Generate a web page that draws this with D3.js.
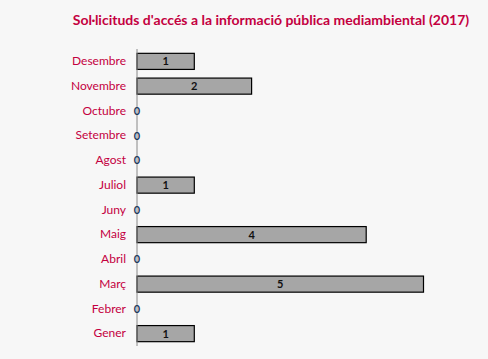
<!DOCTYPE html>
<html>
<head>
<meta charset="utf-8">
<script src="https://cdn.jsdelivr.net/npm/d3@7"></script>
<style>
  body { margin: 0; background: #f7f7f7; }
  svg { display: block; font-family: Lato, "Open Sans", sans-serif; }
</style>
</head>
<body>
<div id="chart"></div>
<script>
// months, top to bottom as drawn
var months = ["Desembre", "Novembre", "Octubre", "Setembre", "Agost", "Juliol",
  "Juny", "Maig", "Abril", "Març", "Febrer", "Gener"];
var requests = [1, 2, 0, 0, 0, 1, 0, 4, 0, 5, 0, 1];

var width = 488,
    height = 359,
    margin = {top: 49, right: 8, bottom: 13, left: 137};

var rows = months.map(function(m, i) {
    return {month: m, value: requests[i]};
});

var svg = d3.select("#chart").append("svg")
    .attr("width", width)
    .attr("height", height);

svg.append("rect")
    .attr("width", width)
    .attr("height", height)
    .attr("fill", "#f7f7f7");

//Title
svg.append("text")
    .attr("x", 271)
    .attr("y", 25)
    .attr("text-anchor", "middle")
    .attr("font-size", "14px")
    .attr("font-weight", "bold")
    .attr("fill", "#c4003f")
    .text("Sol·licituds d'accés a la informació pública mediambiental (2017)");

var x = d3.scaleLinear()
    .domain([0, 1])
    .range([margin.left, margin.left + 57.3]);

var y = d3.scaleBand()
    .domain(months)
    .range([margin.top, height - margin.bottom])
    .paddingInner(0.35)
    .paddingOuter(0.175);

//Bars
svg.selectAll("rect.bar")
    .data(rows.filter(function(d) { return d.value > 0; }))
    .enter()
    .append("rect")
    .attr("class", "bar")
    .attr("x", x(0))
    .attr("y", function(d) { return y(d.month); })
    .attr("width", function(d) { return x(d.value) - x(0); })
    .attr("height", y.bandwidth())
    .attr("fill", "#a6a6a6")
    .attr("stroke", "#000")
    .attr("stroke-width", 1.2);

//Axis line
svg.append("line")
    .attr("x1", x(0))
    .attr("x2", x(0))
    .attr("y1", margin.top)
    .attr("y2", height - margin.bottom)
    .attr("stroke", "#888")
    .attr("stroke-width", 1);

//Category labels
var yAxis = svg.append("g")
    .attr("transform", "translate(" + (x(0) - 11) + ",0)")
    .call(d3.axisLeft(y).tickSize(0).tickPadding(0));
yAxis.select(".domain").remove();
yAxis.selectAll("text")
    .attr("font-family", "Lato, 'Open Sans', sans-serif")
    .attr("font-size", "12px")
    .attr("fill", "#c4003f");

//Value labels
svg.selectAll("text.val")
    .data(rows)
    .enter()
    .append("text")
    .attr("class", "val")
    .attr("x", function(d) { return (x(0) + x(d.value)) / 2; })
    .attr("y", function(d) { return y(d.month) + y.bandwidth() / 2; })
    .attr("dy", "0.36em")
    .attr("text-anchor", "middle")
    .attr("font-size", "11px")
    .attr("font-weight", "bold")
    .attr("fill", function(d) { return d.value > 0 ? "#111" : "#1b3a5c"; })
    .text(function(d) { return d.value; });
</script>
</body>
</html>
